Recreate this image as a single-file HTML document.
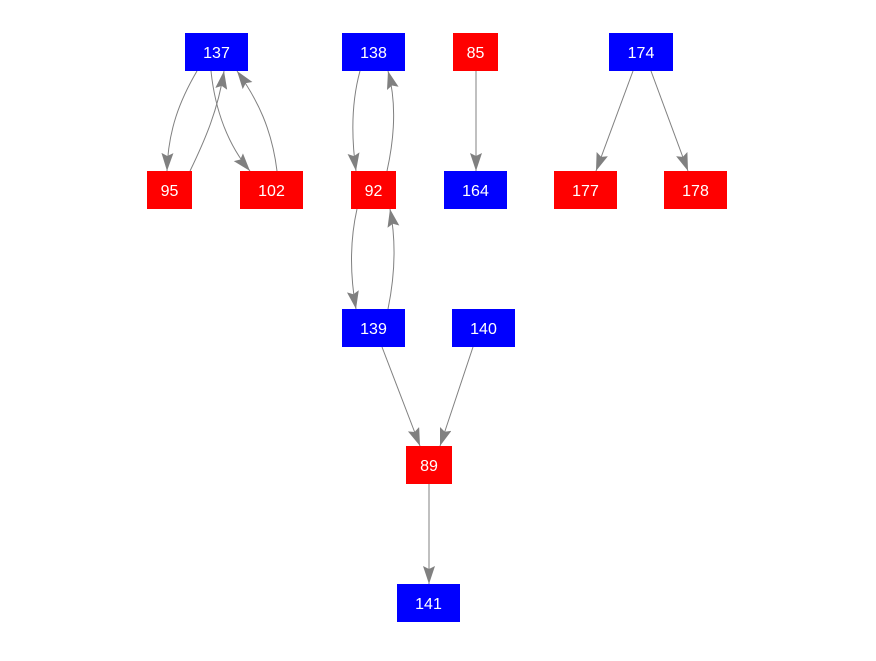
<!DOCTYPE html>
<html><head><style>
body{margin:0;background:#fff;}
svg text{font-family:"Liberation Sans",sans-serif;font-size:16px;fill:#fff;text-anchor:middle;}
</style></head><body>
<svg width="876" height="656" viewBox="0 0 876 656" xmlns="http://www.w3.org/2000/svg">
<defs>
<marker id="a" markerUnits="userSpaceOnUse" markerWidth="20" markerHeight="14" refX="18" refY="6" orient="auto">
<path d="M0,0 L18,6 L0,12 L3,6 z" fill="#808080"/>
</marker>
</defs>
<g fill="none" stroke="#808080" stroke-width="1" marker-end="url(#a)">
<path d="M197,71 C180,100 168,130 167,171"/>
<path d="M190,171 C205,140 218,110 224,71"/>
<path d="M211,71 C215,110 228,145 250,171"/>
<path d="M277,171 C272,130 258,100 237,71"/>
<path d="M360,71 C352,100 351,135 356,171"/>
<path d="M387,171 C395,135 396,100 388,71"/>
<path d="M357,209 C350,240 350,275 356,309"/>
<path d="M388,309 C395,275 396,240 390,209"/>
<path d="M476,71 L476,171"/>
<path d="M633,71 L596,171"/>
<path d="M651,71 L688,171"/>
<path d="M382,347 L420,446"/>
<path d="M473,347 L440,446"/>
<path d="M429,484 L429,584"/>
</g>
<g>
<rect x="185" y="33" width="63" height="38" fill="#0000ff"/><text x="216.5" y="58">137</text>
<rect x="342" y="33" width="63" height="38" fill="#0000ff"/><text x="373.5" y="58">138</text>
<rect x="453" y="33" width="45" height="38" fill="#ff0000"/><text x="475.5" y="58">85</text>
<rect x="609" y="33" width="64" height="38" fill="#0000ff"/><text x="641" y="58">174</text>
<rect x="147" y="171" width="45" height="38" fill="#ff0000"/><text x="169.5" y="196">95</text>
<rect x="240" y="171" width="63" height="38" fill="#ff0000"/><text x="271.5" y="196">102</text>
<rect x="351" y="171" width="45" height="38" fill="#ff0000"/><text x="373.5" y="196">92</text>
<rect x="444" y="171" width="63" height="38" fill="#0000ff"/><text x="475.5" y="196">164</text>
<rect x="554" y="171" width="63" height="38" fill="#ff0000"/><text x="585.5" y="196">177</text>
<rect x="664" y="171" width="63" height="38" fill="#ff0000"/><text x="695.5" y="196">178</text>
<rect x="342" y="309" width="63" height="38" fill="#0000ff"/><text x="373.5" y="334">139</text>
<rect x="452" y="309" width="63" height="38" fill="#0000ff"/><text x="483.5" y="334">140</text>
<rect x="406" y="446" width="46" height="38" fill="#ff0000"/><text x="429" y="471">89</text>
<rect x="397" y="584" width="63" height="38" fill="#0000ff"/><text x="428.5" y="609">141</text>
</g>
</svg>
</body></html>
